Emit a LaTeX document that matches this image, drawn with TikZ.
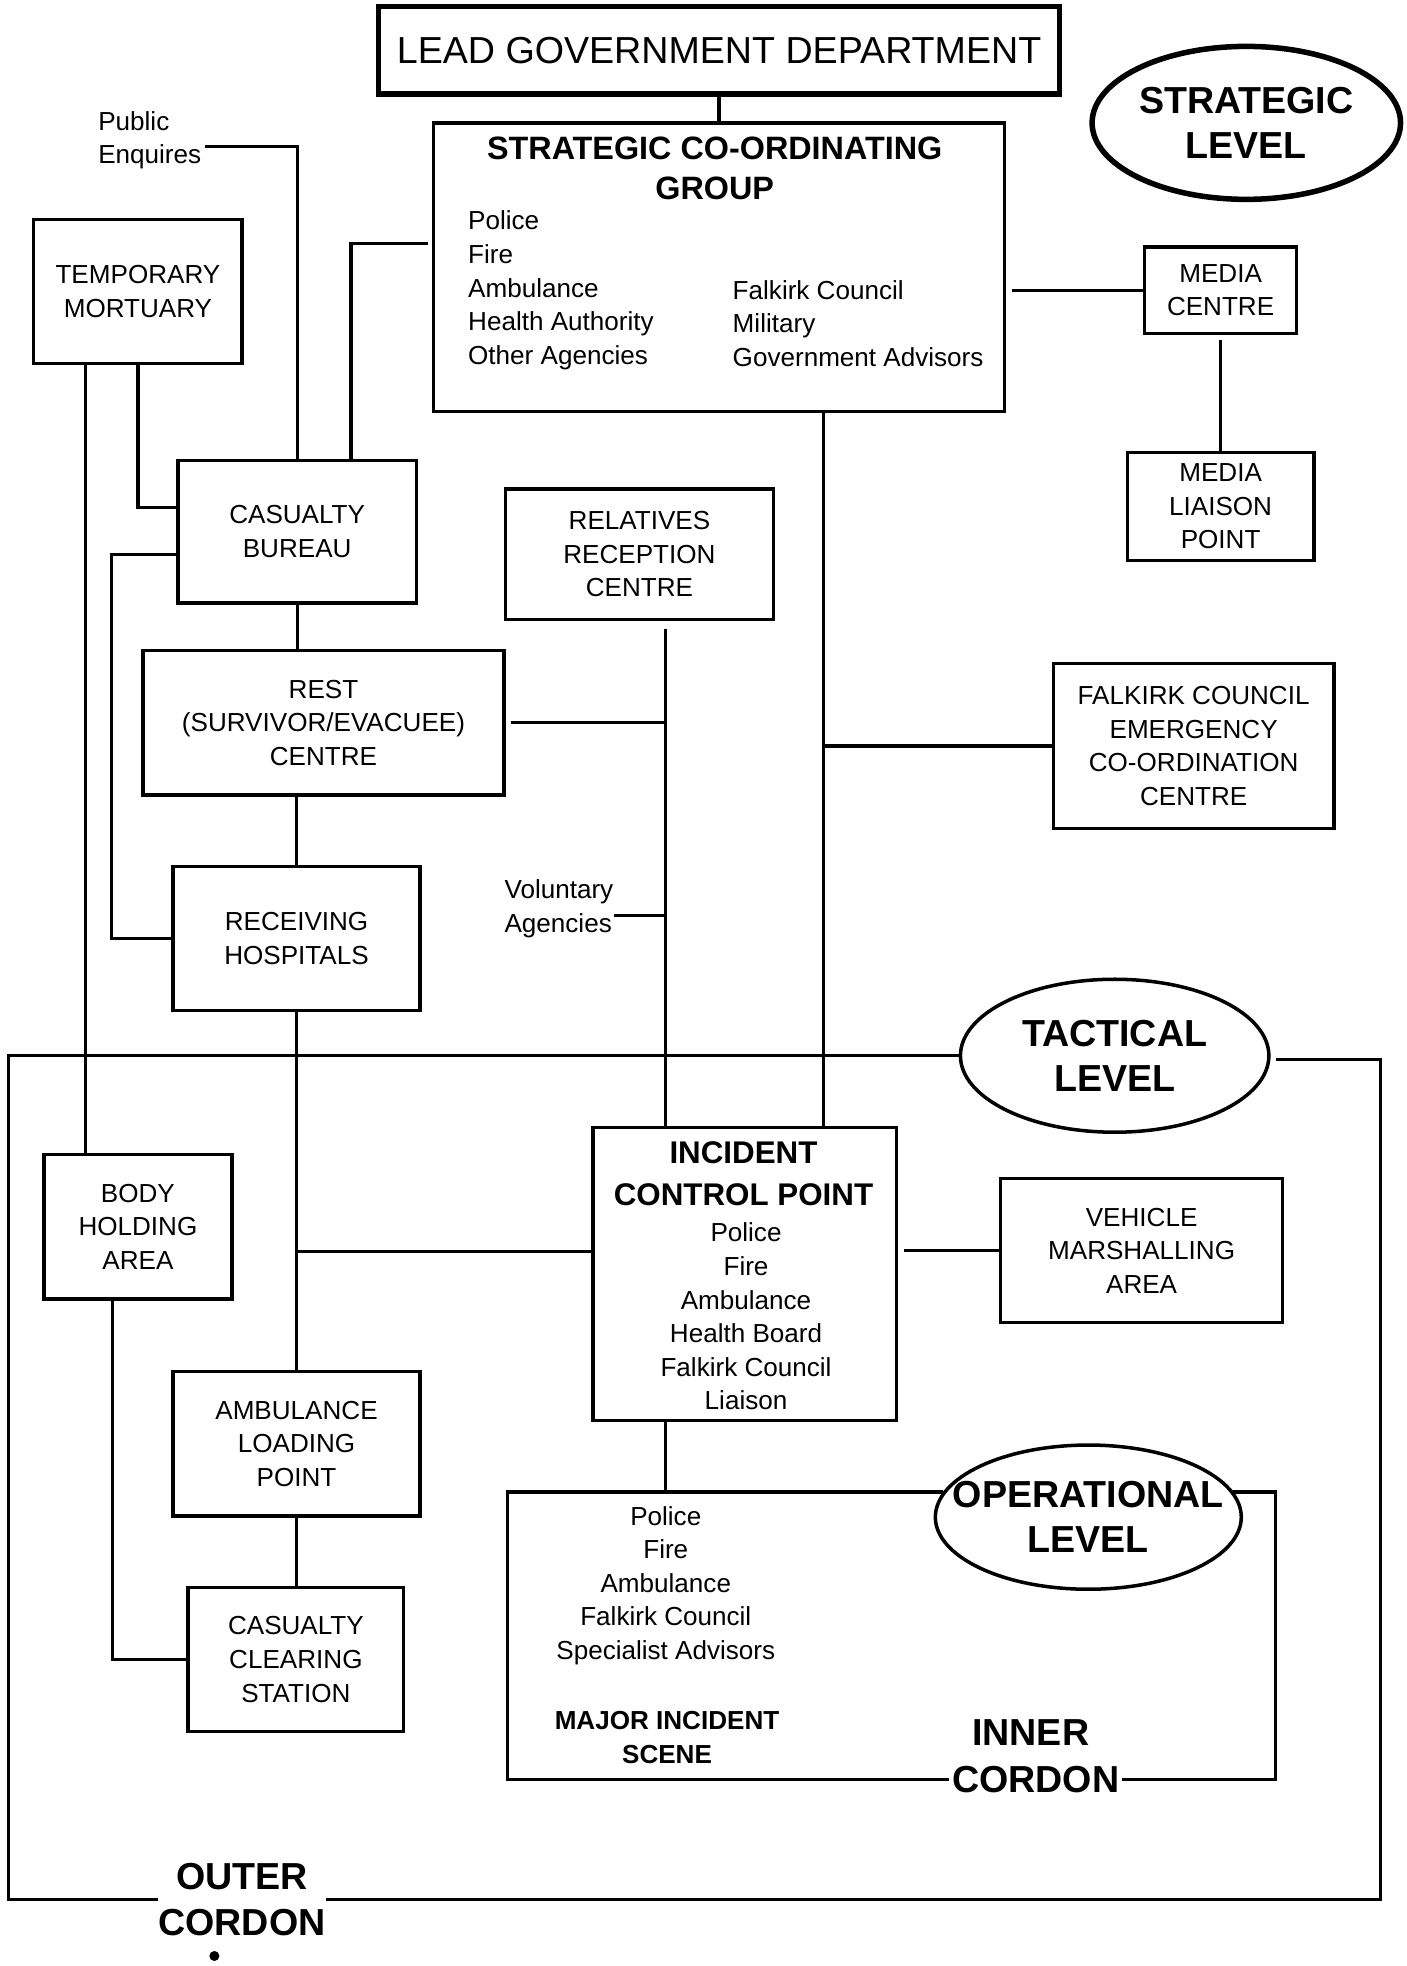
\documentclass[tikz,border=0pt]{standalone}
\usepackage{fontspec}
\setmainfont{Liberation Sans}
\usetikzlibrary{shapes.geometric}

\newcommand{\boxtxt}{\fontsize{10.4}{13.4}\selectfont}
\newcommand{\headtxt}{\fontsize{12.9}{16}\selectfont\bfseries}
\newcommand{\lvltxt}{\fontsize{15}{18}\selectfont\bfseries}

\tikzset{
  unit/.style={draw, line width=1.3pt, inner sep=0pt, align=center, font=\boxtxt},
  level/.style={draw, ellipse, line width=1.4pt, inner sep=0pt},
  link/.style={line width=1.3pt},
  plain/.style={align=center, font=\boxtxt, inner sep=0pt},
}

\begin{document}
\begin{tikzpicture}[x=1pt, y=-1pt]
\useasboundingbox (0,0) rectangle (561,784);

% strategic level
\node[unit, line width=2.2pt, minimum width=271.5pt, minimum height=35pt, font=\fontsize{15}{18}\selectfont] (lgd) at (286.75,20) {LEAD GOVERNMENT DEPARTMENT};
\node[unit, minimum width=227.5pt, minimum height=115pt] (scg) at (286.75,106.5) {};
\node[plain, font=\headtxt] (scgtitle) at (285,67) {STRATEGIC CO-ORDINATING\\GROUP};
\node[plain, align=left, anchor=west] (scgleft) at (186.5,115.75) {Police\\Fire\\Ambulance\\Health Authority\\Other Agencies};
\node[plain, align=left, anchor=west] (scgright) at (292,129) {Falkirk Council\\Military\\Government Advisors};
\node[level, line width=2.2pt, minimum width=123pt, minimum height=61pt,
  label={[font=\lvltxt, align=center]center:STRATEGIC\\LEVEL}] (stratlvl) at (497,49) {};
\node[unit, minimum width=60.5pt, minimum height=34.5pt] (medc) at (486.75,115.75) {MEDIA\\CENTRE};
\node[unit, minimum width=74.5pt, minimum height=43pt] (mlp) at (486.75,202) {MEDIA\\LIAISON\\POINT};
\node[plain, align=left, anchor=west] (pubenq) at (39,56) {Public\\Enquires};
\node[unit, minimum width=83pt, minimum height=57.5pt] (tm) at (55,116.25) {TEMPORARY\\MORTUARY};
\node[unit, minimum width=95pt, minimum height=57pt] (cb) at (118.5,212) {CASUALTY\\BUREAU};
\node[unit, minimum width=107pt, minimum height=52pt] (rrc) at (255,221) {RELATIVES\\RECEPTION\\CENTRE};
\node[unit, minimum width=144pt, minimum height=57.5pt] (rest) at (129,288.25) {REST\\(SURVIVOR/EVACUEE)\\CENTRE};
\node[unit, minimum width=112pt, minimum height=66pt] (fcecc) at (476,297.5) {FALKIRK COUNCIL\\EMERGENCY\\CO-ORDINATION\\CENTRE};
\node[unit, minimum width=98.5pt, minimum height=57.5pt] (rh) at (118.25,374.25) {RECEIVING\\HOSPITALS};
\node[plain, align=left, anchor=west] (volag) at (201,362.5) {Voluntary\\Agencies};

% tactical level
\node[level, minimum width=123pt, minimum height=61pt,
  label={[font=\lvltxt, align=center]center:TACTICAL\\LEVEL}] (taclvl) at (444.5,421) {};
\node[unit, minimum width=75pt, minimum height=57.5pt] (bha) at (55,489.25) {BODY\\HOLDING\\AREA};
\node[unit, minimum width=121pt, minimum height=117pt] (icp) at (297,508) {};
\node[plain, font=\fontsize{12.5}{17}\selectfont\bfseries] (icptitle) at (296.5,468) {INCIDENT\\CONTROL POINT};
\node[plain] (icpbody) at (297.5,525) {Police\\Fire\\Ambulance\\Health Board\\Falkirk Council\\Liaison};
\node[unit, minimum width=112.5pt, minimum height=57.5pt] (vma) at (455.25,498.75) {VEHICLE\\MARSHALLING\\AREA};
\node[unit, minimum width=98.5pt, minimum height=57.5pt] (alp) at (118.25,575.75) {AMBULANCE\\LOADING\\POINT};
\node[unit, minimum width=86pt, minimum height=57.5pt] (ccs) at (118,661.75) {CASUALTY\\CLEARING\\STATION};

% operational level
\node[level, minimum width=122pt, minimum height=57.5pt,
  label={[font=\lvltxt, align=center]center:OPERATIONAL\\LEVEL}] (oplvl) at (434,605) {};
\node[plain] (scene) at (265.5,632.25) {Police\\Fire\\Ambulance\\Falkirk Council\\Specialist Advisors};
\node[plain, font=\fontsize{10.4}{13.5}\selectfont\bfseries] (mis) at (266,692.75) {MAJOR INCIDENT\\SCENE};
\node[plain, font=\lvltxt] (innerlbl) at (411,691) {INNER};
\node[plain, font=\lvltxt, inner sep=1pt] (innercord) at (413,709.5) {CORDON};
\node[plain, font=\lvltxt] (outerlbl) at (96.5,757.5) {OUTER\\CORDON};

% cordon corners
\coordinate (ic nw) at (202.5,595);
\coordinate (ic sw) at (202.5,709.5);
\coordinate (ic se) at (508.5,709.5);
\coordinate (ic ne) at (508.5,595);
\coordinate (oc nw) at (3.5,421);
\coordinate (oc sw) at (3.5,757.5);
\coordinate (oc se) at (550.5,757.5);
\coordinate (oc ne) at (550.5,422.5);

% trunk lines
\coordinate (reltrunk) at ([xshift=10.5pt]rrc.south);
\coordinate (scgtrunk) at ([xshift=41.75pt]scg.south);

% connectors
\draw[link] (lgd) -- (scg);
\draw[link, shorten <=2.5pt] (medc.west -| scg.east) -- (medc.west);
\draw[link, shorten <=2pt] (medc) -- (mlp);
\draw[link, shorten <=1.5pt] ([yshift=-2.5pt]pubenq.east) -| (cb.north);
\draw[link, shorten >=1.5pt] ([xshift=21.5pt]cb.north) |- ([yshift=9.5pt]scg.west);
\draw[link] (tm.south) |- ([yshift=9.5pt]cb.west);
\draw[link] ([xshift=-21pt]tm.south) -- ([xshift=-21pt]tm.south |- bha.north);
\draw[link] ([yshift=-9pt]cb.west) -- ++(-26,0) |- (rh.west);
\draw[link] (cb.south) -- (cb.south |- rest.north);
\draw[link] (rh.north) -- (rh.north |- rest.south);
\draw[link, shorten <=3pt] (reltrunk) -- (reltrunk |- icp.north);
\draw[link, shorten <=2pt] (rest.east) -- (rest.east -| reltrunk);
\draw[link] ([yshift=-2.5pt]volag.east) -- ([yshift=-2.5pt]volag.east -| reltrunk);
\draw[link] (scgtrunk) -- (scgtrunk |- icp.north);
\draw[link] (fcecc.west) -- (fcecc.west -| scgtrunk);
\draw[link] (rh.south) -- (rh.south |- alp.north);
\draw[link] ([yshift=9pt]icp.west) -- ([yshift=9pt]icp.west -| rh.south);
\draw[link, shorten <=2.5pt] (vma.west -| icp.east) -- (vma.west);
\draw[link] (alp.south) -- (alp.south |- ccs.north);
\draw[link] ([xshift=-10pt]bha.south) |- (ccs.west);
\draw[link] (reltrunk |- icp.south) -- (reltrunk |- ic nw);

% inner cordon
\draw[link] (ic nw -| oplvl.170) -- (ic nw) -- (ic sw) -- (innercord.west);
\draw[link] (innercord.east) -- (ic se) -- (ic ne) -- (ic ne -| oplvl.10);

% outer cordon
\draw[link] (taclvl.west) -- (oc nw) -- (oc sw) -- (outerlbl.west);
\draw[link, shorten >=2pt] (outerlbl.east) -- (oc se) -- (oc ne) -- (oc ne -| taclvl.east);
\fill (85.5,780) circle (2pt);
\end{tikzpicture}
\end{document}
